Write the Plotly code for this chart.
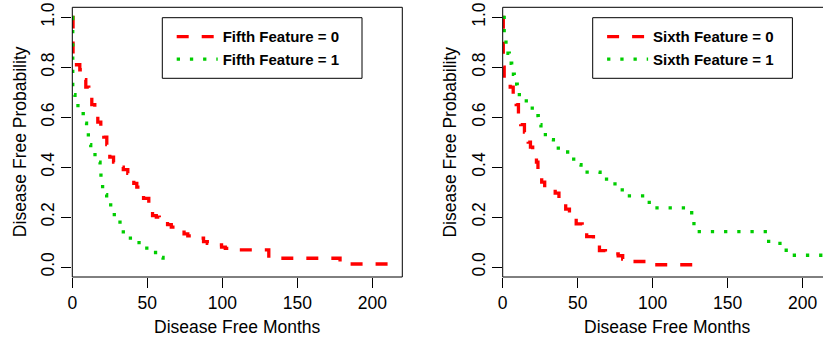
import plotly.graph_objects as go

# ---------------- data ----------------
fifth0_months = [0, 0.5, 5, 7, 9, 11, 13, 15, 17, 19, 21, 23, 25, 27.5, 31, 34, 37, 41, 43, 45,
                 47.5, 51, 53.5, 56, 58, 63.5, 66, 68.5, 74.5, 77, 79.5, 87.5, 90, 92, 99.5, 102,
                 105, 131, 178.5, 211]
fifth0_surv = [1.0, 0.81, 0.79, 0.75, 0.72, 0.68, 0.65, 0.61, 0.58, 0.55, 0.52, 0.49, 0.44, 0.42,
               0.40, 0.39, 0.375, 0.335, 0.32, 0.31, 0.275, 0.253, 0.206, 0.20, 0.193, 0.17, 0.16,
               0.15, 0.133, 0.125, 0.116, 0.102, 0.095, 0.089, 0.08, 0.075, 0.069, 0.035, 0.012, 0.0]

fifth1_months = [0, 0.3, 1.1, 1.8, 5, 7.3, 9.5, 10.7, 12.3, 16.3, 18.5, 19.1, 20.2, 22.9, 25.6,
                 28, 31.8, 34, 44.5, 55.5, 60.5]
fifth1_surv = [1.0, 0.70, 0.69, 0.646, 0.614, 0.576, 0.536, 0.49, 0.45, 0.42, 0.38, 0.34, 0.29,
               0.256, 0.22, 0.18, 0.153, 0.116, 0.076, 0.038, 0.0]

sixth0_months = [0, 0.4, 1.0, 5, 7, 9, 10.5, 12, 14.5, 17, 18.5, 20, 22.5, 23.5, 26, 28, 35, 37.5,
                 42, 44.5, 49, 53, 56, 60.5, 64.5, 68.5, 77, 80, 84, 100, 129]
sixth0_surv = [1.0, 0.80, 0.74, 0.72, 0.69, 0.65, 0.61, 0.57, 0.54, 0.50, 0.48, 0.47, 0.42, 0.39,
               0.34, 0.316, 0.296, 0.272, 0.232, 0.21, 0.173, 0.16, 0.122, 0.106, 0.066, 0.053,
               0.045, 0.032, 0.022, 0.009, 0.009]

sixth1_months = [0, 1.0, 2.2, 4.4, 6, 7.7, 9.7, 13.7, 17, 21, 23.7, 25.5, 31, 33.8, 43.3, 48.7,
                 52.2, 64.9, 70.4, 79.7, 97.7, 126, 127.5, 177.3, 189, 216]
sixth1_surv = [1.0, 0.92, 0.856, 0.816, 0.772, 0.732, 0.69, 0.665, 0.636, 0.606, 0.57, 0.53, 0.51,
               0.476, 0.432, 0.41, 0.38, 0.352, 0.333, 0.285, 0.237, 0.19, 0.142, 0.095, 0.047,
               0.047]

x_ticks = [0, 50, 100, 150, 200]
y_ticks = [0.0, 0.2, 0.4, 0.6, 0.8, 1.0]
fifth_labels = ["Fifth Feature = 0", "Fifth Feature = 1"]
sixth_labels = ["Sixth Feature = 0", "Sixth Feature = 1"]
x_title = "Disease Free Months"
y_title = "Disease Free Probability"

# ---------------- layout helpers ----------------
W, H = 823, 337
FONT = "Liberation Sans, Arial, Helvetica, sans-serif"
RED = "#FF0000"
GREEN = "#00CD00"


def fx(p):
    return p / W


def fy(p):
    return 1 - p / H


PLOT_TOP, PLOT_BOTTOM = 7.3, 277.0
L_LEFT, L_RIGHT = 72.3, 402.3
R_LEFT, R_RIGHT = 502.7, 832.7
PX_PER_MONTH = 1.5

fig = go.Figure()

red_line = dict(color=RED, width=3.3, dash="12px,13px", shape="hv")
green_line = dict(color=GREEN, width=3.3, dash="3.3px,9.9px", shape="hv")

fig.add_trace(go.Scatter(x=fifth0_months, y=fifth0_surv, mode="lines", name=fifth_labels[0],
                         line=red_line, xaxis="x", yaxis="y", legend="legend"))
fig.add_trace(go.Scatter(x=fifth1_months, y=fifth1_surv, mode="lines", name=fifth_labels[1],
                         line=green_line, xaxis="x", yaxis="y", legend="legend"))
fig.add_trace(go.Scatter(x=sixth0_months, y=sixth0_surv, mode="lines", name=sixth_labels[0],
                         line=red_line, xaxis="x2", yaxis="y2", legend="legend2"))
fig.add_trace(go.Scatter(x=sixth1_months, y=sixth1_surv, mode="lines", name=sixth_labels[1],
                         line=green_line, xaxis="x2", yaxis="y2", legend="legend2"))

tick_font = dict(family=FONT, size=17.5, color="black")
ydom = [fy(PLOT_BOTTOM), fy(PLOT_TOP)]

common_x = dict(tickmode="array", tickvals=x_ticks, ticks="outside", ticklen=10, tickwidth=1,
                tickcolor="black", showline=False, showgrid=False, zeroline=False,
                tickfont=tick_font, automargin=False, fixedrange=True)
common_y = dict(tickmode="array", tickvals=y_ticks, ticktext=[f"{v:.1f}" for v in y_ticks],
                ticks="outside", ticklen=10, tickwidth=1, tickcolor="black", showline=False,
                showgrid=False, zeroline=False, tickfont=tick_font, tickangle=-90,
                range=[-0.04, 1.04], domain=ydom, automargin=False, fixedrange=True)

legend_common = dict(xanchor="left", yanchor="top", bgcolor="rgba(0,0,0,0)", borderwidth=0,
                     font=dict(family=FONT, size=15, color="black", weight="bold"),
                     itemwidth=41, tracegroupgap=0, traceorder="normal")

fig.update_layout(
    width=W, height=H, autosize=False,
    margin=dict(l=0, r=0, t=0, b=0, pad=0),
    paper_bgcolor="white", plot_bgcolor="white",
    xaxis=dict(common_x, domain=[fx(L_LEFT), fx(L_RIGHT)],
               range=[0, (L_RIGHT - L_LEFT) / PX_PER_MONTH], anchor="y"),
    yaxis=dict(common_y, anchor="x"),
    xaxis2=dict(common_x, domain=[fx(R_LEFT), 1.0],
                range=[0, (W - R_LEFT) / PX_PER_MONTH], anchor="y2"),
    yaxis2=dict(common_y, anchor="x2"),
    legend=dict(legend_common, x=fx(L_LEFT + 99.4), y=fy(20.3)),
    legend2=dict(legend_common, x=fx(R_LEFT + 99.4), y=fy(20.3)),
    showlegend=True,
)

# plot boxes
fig.add_shape(type="rect", xref="x domain", yref="y domain", x0=0, x1=1, y0=0, y1=1,
              line=dict(color="black", width=1), layer="above")
fig.add_shape(type="rect", xref="x2 domain", yref="y2 domain", x0=0,
              x1=(R_RIGHT - R_LEFT) / (W - R_LEFT), y0=0, y1=1,
              line=dict(color="black", width=1), layer="above")

# legend boxes
for left in (L_LEFT, R_LEFT):
    fig.add_shape(type="rect", xref="paper", yref="paper",
                  x0=fx(left + 90), x1=fx(left + 289.7), y0=fy(78.3), y1=fy(17.7),
                  line=dict(color="black", width=1))

# axis titles
title_font = dict(family=FONT, size=17.5, color="black")
for left, right in ((L_LEFT, L_RIGHT), (R_LEFT, R_RIGHT)):
    fig.add_annotation(text=x_title, xref="paper", yref="paper", x=fx((left + right) / 2),
                       y=fy(326.7), xanchor="center", yanchor="middle", showarrow=False,
                       font=title_font)
    fig.add_annotation(text=y_title, xref="paper", yref="paper", x=fx(left - 52.3),
                       y=fy((PLOT_TOP + PLOT_BOTTOM) / 2), xanchor="center", yanchor="middle",
                       textangle=-90, showarrow=False, font=title_font)

fig.write_html("out.html")
